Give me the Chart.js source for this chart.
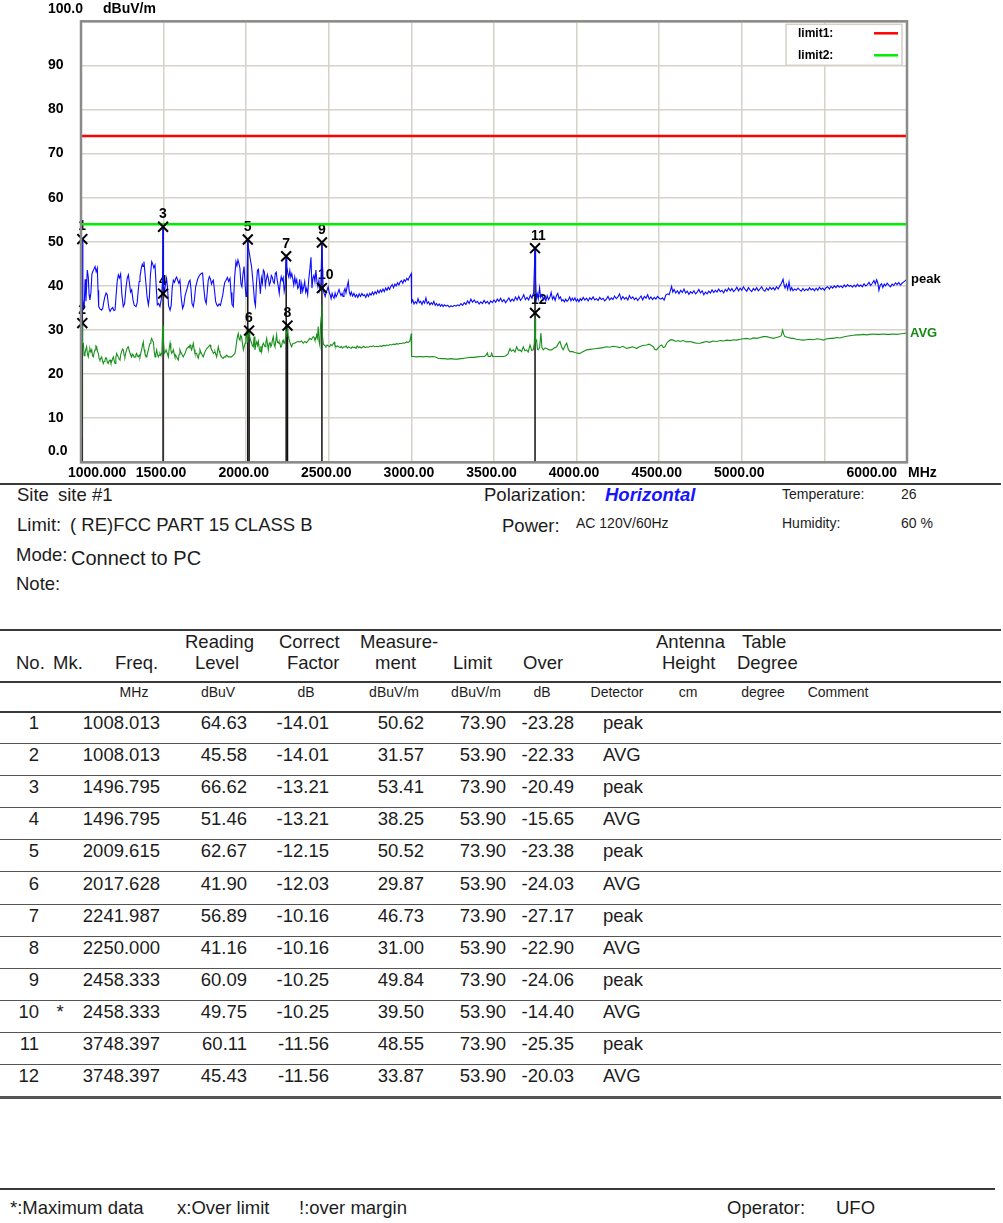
<!DOCTYPE html>
<html><head><meta charset="utf-8">
<script src="https://cdn.jsdelivr.net/npm/chart.js@4.4.1/dist/chart.umd.min.js"></script>
<style>
html,body{margin:0;padding:0;background:#fff;}
#page{position:relative;width:1003px;height:1223px;overflow:hidden;font-family:"Liberation Sans",Arial,sans-serif;color:#1c1c1c;}
#chart{position:absolute;left:0;top:0;}
.t{position:absolute;white-space:nowrap;}
.hl{position:absolute;height:0;}
</style></head><body><div id="page"><canvas id="chart" width="1003" height="482"></canvas></div>
<script>
// ---------- DATA ----------
const xTicks = [1000,1500,2000,2500,3000,3500,4000,4500,5000,5500,6000];
const xTickLabels = ['1000.000','1500.00','2000.00','2500.00','3000.00','3500.00','4000.00','4500.00','5000.00','','6000.00'];
const yTicks = [0,10,20,30,40,50,60,70,80,90,100];
const yTickLabels = ['0.0','10','20','30','40','50','60','70','80','90','100.0'];
const limit1Level = 74;
const limit2Level = 54;

const markerNo = [1,2,3,4,5,6,7,8,9,10,11,12];
const markerMk = ['','','','','','','','','','*','',''];
const markerFreq = [1008.013,1008.013,1496.795,1496.795,2009.615,2017.628,2241.987,2250.000,2458.333,2458.333,3748.397,3748.397];
const readingLevel = [64.63,45.58,66.62,51.46,62.67,41.90,56.89,41.16,60.09,49.75,60.11,45.43];
const correctFactor = [-14.01,-14.01,-13.21,-13.21,-12.15,-12.03,-10.16,-10.16,-10.25,-10.25,-11.56,-11.56];
const measurement = [50.62,31.57,53.41,38.25,50.52,29.87,46.73,31.00,49.84,39.50,48.55,33.87];
const limitValue = [73.90,53.90,73.90,53.90,73.90,53.90,73.90,53.90,73.90,53.90,73.90,53.90];
const overValue = [-23.28,-22.33,-20.49,-15.65,-23.38,-24.03,-27.17,-22.90,-24.06,-14.40,-25.35,-20.03];
const detector = ['peak','AVG','peak','AVG','peak','AVG','peak','AVG','peak','AVG','peak','AVG'];

const peakTrace = [
[1000,27.5],[1002,39.0],[1004,33.0],[1006,46.5],[1008.013,50.62],[1010,45.0],[1012,37.0],[1016,35.2],[1020,36.0],[1025,41.5],[1030,36.5],[1034,40.0],[1038,43.6],[1044,42.0],[1049,38.0],[1054,36.8],[1060,38.5],[1066,42.6],[1071,43.2],[1078,43.8],[1085,44.4],[1092,43.2],[1099,44.0],[1103,39.0],[1107,35.3],[1115,34.8],[1125,34.5],[1132,35.0],[1138,36.4],[1145,37.6],[1152,38.4],[1159,38.0],[1165,36.0],[1170,34.8],[1176,34.2],[1184,34.8],[1192,35.1],[1199,34.4],[1206,34.5],[1212,37.6],[1219,41.0],[1226,42.5],[1233,41.8],[1240,42.7],[1247,38.2],[1256,35.3],[1264,36.0],[1272,39.5],[1280,41.8],[1287,42.5],[1294,40.4],[1300,38.6],[1307,39.1],[1314,37.0],[1322,35.6],[1333,35.3],[1340,36.2],[1346,38.8],[1352,41.0],[1357,42.1],[1364,43.8],[1371,44.9],[1376,44.4],[1381,45.5],[1387,43.0],[1393,40.6],[1400,37.5],[1408,35.7],[1414,37.5],[1420,42.3],[1428,45.5],[1434,45.0],[1441,44.1],[1448,44.7],[1455,40.0],[1462,35.7],[1470,36.0],[1478,35.3],[1486,37.0],[1494,41.3],[1496.795,53.41],[1499,40.6],[1504,38.3],[1510,40.0],[1518,41.7],[1524,39.5],[1530,35.5],[1539,34.5],[1546,35.6],[1552,39.5],[1559,41.3],[1566,40.8],[1573,41.6],[1579,42.0],[1586,41.2],[1592,40.6],[1599,41.3],[1606,37.5],[1615,34.9],[1622,35.6],[1630,37.8],[1640,39.1],[1648,40.2],[1654,41.0],[1660,41.3],[1666,39.2],[1672,36.0],[1680,35.3],[1687,37.0],[1694,39.8],[1700,40.6],[1706,41.5],[1714,42.2],[1720,42.5],[1728,42.8],[1736,42.9],[1742,40.0],[1751,36.8],[1758,36.0],[1764,38.5],[1770,41.2],[1777,42.1],[1784,41.5],[1790,40.4],[1796,41.0],[1801,41.3],[1808,39.0],[1815,36.5],[1821,35.8],[1828,35.4],[1836,35.9],[1844,35.6],[1851,36.8],[1858,37.9],[1864,39.5],[1870,40.8],[1878,41.3],[1886,41.9],[1894,41.0],[1902,41.7],[1908,38.5],[1914,35.8],[1922,35.3],[1930,42.0],[1938,45.5],[1944,44.6],[1950,45.9],[1956,45.1],[1962,44.0],[1968,40.5],[1974,39.8],[1980,42.5],[1987,44.4],[1993,40.5],[1999,37.6],[2004,39.5],[2009.615,50.52],[2014,48.5],[2020,47.2],[2026,45.8],[2032,44.5],[2038,42.2],[2044,39.6],[2050,36.6],[2056,35.5],[2062,40.5],[2068,43.5],[2074,43.8],[2080,41.0],[2086,38.2],[2092,41.8],[2098,40.6],[2104,43.6],[2110,43.2],[2116,40.0],[2122,41.5],[2128,42.6],[2134,41.7],[2140,40.2],[2146,40.8],[2152,42.4],[2158,42.0],[2164,40.9],[2170,40.6],[2176,42.8],[2182,43.1],[2188,41.2],[2194,40.0],[2200,38.3],[2206,40.8],[2212,42.1],[2218,41.2],[2224,41.9],[2230,38.8],[2236,40.2],[2241.987,46.73],[2246,44.5],[2252,42.8],[2258,42.0],[2264,43.5],[2270,42.0],[2276,42.8],[2282,41.6],[2288,40.2],[2294,42.0],[2300,40.6],[2306,41.4],[2312,39.4],[2318,39.8],[2324,41.5],[2330,38.2],[2336,40.5],[2342,38.8],[2348,39.8],[2354,41.0],[2360,38.6],[2366,39.4],[2372,38.0],[2378,41.2],[2386,44.0],[2392,46.5],[2398,39.5],[2404,41.8],[2410,42.4],[2416,41.0],[2422,43.6],[2428,41.0],[2434,39.8],[2440,41.2],[2446,39.1],[2452,40.6],[2458.333,49.84],[2462,44.5],[2466,39.1],[2472,38.3],[2478,37.6],[2484,38.5],[2490,39.1],[2496,39.8],[2502,38.6],[2508,38.0],[2514,37.1],[2520,38.3],[2526,37.6],[2532,37.2],[2538,38.4],[2544,37.5],[2550,38.0],[2556,38.6],[2562,39.2],[2568,38.4],[2574,37.8],[2580,38.3],[2586,37.6],[2592,38.8],[2598,39.4],[2604,38.4],[2612,40.0],[2618,41.0],[2624,38.6],[2630,37.9],[2636,38.6],[2644,37.7],[2652,38.3],[2660,37.5],[2668,38.0],[2676,37.4],[2684,38.2],[2692,37.6],[2700,38.3],[2708,37.8],[2716,38.0],[2724,37.4],[2732,38.2],[2740,37.6],[2748,38.3],[2756,37.9],[2764,38.6],[2772,38.0],[2780,38.7],[2788,38.2],[2796,39.0],[2804,38.4],[2812,39.1],[2820,38.6],[2828,39.3],[2836,38.7],[2844,39.5],[2852,39.0],[2860,39.7],[2868,39.2],[2876,39.9],[2884,40.3],[2892,39.6],[2900,40.4],[2908,40.0],[2916,40.7],[2924,40.2],[2932,40.9],[2940,41.2],[2948,40.6],[2956,41.4],[2964,41.0],[2972,41.7],[2980,41.3],[2988,42.0],[2994,42.4],[2999,42.8],[3001,36.3],
[3008,36.8],[3016,35.9],[3024,36.4],[3032,36.0],[3040,37.1],[3048,36.2],[3056,36.5],[3064,35.8],[3072,36.6],[3080,36.1],[3088,37.3],[3096,36.0],[3104,36.4],[3112,35.7],[3120,36.2],[3128,35.8],[3136,36.5],[3144,35.6],[3152,36.0],[3160,35.5],[3168,35.9],[3176,35.4],[3184,35.8],[3192,35.3],[3200,35.7],[3210,35.4],[3220,35.6],[3230,35.2],[3240,35.5],[3250,35.3],[3260,35.6],[3270,35.4],[3280,35.7],[3290,35.5],[3300,36.0],[3310,35.6],[3320,36.2],[3330,35.8],[3340,36.6],[3350,36.0],[3360,37.0],[3370,36.3],[3380,36.8],[3390,36.2],[3400,36.5],[3410,35.9],[3420,36.4],[3430,36.0],[3440,36.7],[3450,36.1],[3460,36.5],[3470,35.9],[3480,36.6],[3490,36.2],[3500,36.8],
[3510,36.3],[3520,37.0],[3530,36.5],[3540,37.2],[3550,36.4],[3560,36.9],[3570,36.2],[3580,36.7],[3590,37.3],[3600,36.5],[3610,37.0],[3620,36.6],[3630,37.5],[3640,36.8],[3650,37.6],[3660,36.7],[3670,37.2],[3680,38.0],[3690,36.9],[3700,37.4],[3710,36.8],[3720,37.9],[3730,37.2],[3740,38.5],[3748.397,48.55],[3752,41.8],[3756,37.0],[3762,38.2],[3768,37.1],[3776,39.6],[3782,37.4],[3790,38.0],[3798,36.9],[3806,37.5],[3814,36.6],[3822,37.8],[3830,36.9],[3838,37.4],[3846,38.5],[3854,37.0],[3862,37.6],[3870,36.7],[3878,37.8],[3886,38.3],[3894,37.1],[3902,37.5],[3910,36.6],[3918,36.9],[3926,36.4],[3934,37.0],[3942,36.5],[3950,36.8],[3958,37.5],[3966,36.6],[3974,37.2],[3982,36.7],[3990,37.3],[3998,36.5],[4006,37.0],[4014,36.4],[4022,37.1],[4030,36.7],[4040,37.4],[4050,36.8],[4060,37.2],[4070,36.6],[4080,37.3],[4090,36.9],[4100,37.5],[4110,36.8],[4120,37.1],[4130,36.7],[4140,37.4],[4150,36.9],[4160,37.2],[4170,36.6],[4180,37.0],[4190,37.6],[4200,36.8],[4210,37.3],[4220,36.9],[4230,37.7],[4240,37.1],[4250,37.5],[4260,38.2],[4270,36.9],[4280,37.6],[4290,37.0],[4300,37.4],[4310,36.8],[4320,37.8],[4330,37.1],[4340,37.5],[4350,36.9],[4360,37.3],[4370,36.7],[4380,37.2],[4390,37.7],[4400,36.8],[4410,37.6],[4420,37.2],[4430,38.0],[4440,37.0],[4450,37.5],[4460,36.9],[4470,37.4],[4480,37.0],[4490,37.6],[4500,37.2],
[4510,37.0],[4520,37.3],[4530,36.8],[4540,37.9],[4550,38.2],[4560,38.0],[4568,39.0],[4575,39.9],[4582,38.6],[4590,39.2],[4600,38.4],[4610,38.9],[4620,38.2],[4630,39.0],[4640,38.5],[4650,39.3],[4660,38.4],[4670,38.8],[4680,38.1],[4690,38.7],[4700,38.3],[4710,38.9],[4720,38.2],[4730,38.6],[4740,39.2],[4750,38.4],[4760,38.9],[4770,38.0],[4780,38.6],[4790,38.2],[4800,38.8],[4810,38.4],[4820,39.1],[4830,38.5],[4840,39.0],[4850,38.6],[4860,39.3],[4870,38.7],[4880,39.0],[4890,38.4],[4900,39.2],[4910,38.8],[4920,39.5],[4930,38.9],[4940,39.4],[4950,38.7],[4960,39.1],[4970,39.7],[4980,38.9],[4990,39.5],[5000,39.0],[5010,39.8],[5020,39.2],[5030,38.8],[5040,39.6],[5050,39.1],[5060,38.7],[5070,39.4],[5080,39.0],[5090,39.6],[5100,38.9],[5110,39.3],[5120,39.8],[5130,39.1],[5140,38.8],[5150,39.5],[5160,39.0],[5170,39.7],[5180,39.2],[5190,39.6],[5200,39.1],[5210,39.8],[5220,39.3],[5230,40.0],[5240,40.6],[5250,41.5],[5256,40.2],[5262,39.5],[5270,40.4],[5278,39.2],[5286,40.9],[5294,39.0],[5302,39.6],[5310,38.9],[5320,39.3],[5330,39.0],[5340,39.5],[5350,39.1],[5360,38.8],[5370,39.4],[5380,38.9],[5390,39.3],[5400,39.0],[5410,39.6],[5420,39.1],[5430,39.4],[5440,38.9],[5450,39.5],[5460,39.0],[5470,39.7],[5480,39.2],[5490,39.5],[5500,39.0],[5510,39.6],[5520,39.8],[5530,39.3],[5540,39.9],[5550,39.5],[5560,40.0],[5570,39.6],[5580,40.1],[5590,39.7],[5600,40.0],[5610,39.6],[5620,40.2],[5630,39.8],[5640,40.3],[5650,39.9],[5660,40.1],[5670,39.7],[5680,40.2],[5690,39.8],[5700,40.4],[5710,39.9],[5720,40.2],[5730,39.8],[5740,40.5],[5750,40.0],[5760,40.3],[5770,40.8],[5780,40.1],[5790,40.6],[5800,41.2],[5808,40.4],[5816,41.4],[5824,40.6],[5830,39.0],[5838,40.2],[5846,40.5],[5854,39.6],[5862,40.4],[5870,40.0],[5880,40.6],[5890,40.2],[5900,39.8],[5910,40.4],[5920,40.1],[5930,40.7],[5940,40.3],[5950,40.8],[5960,40.2],[5970,40.6],[5980,40.9],[5990,41.2],[6000,41.5]
];

const avgTrace = [
[1000,5.5],[1002,18.0],[1004,27.5],[1006,24.0],[1008.013,31.0],[1010,27.2],[1014,27.0],[1019,24.2],[1024,24.7],[1029,25.6],[1034,26.2],[1039,24.5],[1044,23.9],[1049,25.2],[1054,25.8],[1060,25.0],[1065,25.5],[1070,24.1],[1075,23.9],[1080,25.0],[1085,25.5],[1090,26.4],[1095,26.2],[1100,25.1],[1105,24.7],[1110,23.5],[1115,23.2],[1120,23.6],[1125,23.9],[1130,23.0],[1135,22.4],[1140,22.9],[1145,23.2],[1150,23.7],[1155,23.6],[1160,22.6],[1165,22.4],[1170,23.0],[1176,23.2],[1181,22.5],[1186,22.8],[1191,23.5],[1196,23.9],[1201,23.0],[1206,22.4],[1211,23.8],[1216,24.7],[1221,24.2],[1226,23.9],[1231,23.4],[1236,23.2],[1241,24.5],[1246,25.1],[1251,25.7],[1256,25.5],[1261,24.3],[1266,23.9],[1271,24.8],[1276,25.5],[1281,26.0],[1286,26.2],[1291,25.5],[1297,24.7],[1302,24.2],[1307,23.9],[1312,24.5],[1317,24.3],[1322,23.8],[1327,23.9],[1332,24.4],[1337,24.7],[1342,24.1],[1347,23.9],[1352,24.3],[1357,23.9],[1362,24.8],[1367,25.5],[1372,26.5],[1377,27.3],[1382,25.6],[1387,24.7],[1392,24.2],[1398,23.9],[1403,24.8],[1408,25.5],[1413,26.4],[1418,27.0],[1423,27.6],[1428,28.1],[1433,27.5],[1438,27.3],[1443,25.2],[1448,23.9],[1453,24.6],[1458,25.5],[1463,24.5],[1468,23.9],[1473,24.3],[1478,24.7],[1484,24.2],[1490,25.0],[1494,30.5],[1496.795,31.1],[1499,27.5],[1504,24.7],[1510,25.0],[1515,25.5],[1519,25.5],[1524,24.5],[1529,23.9],[1534,25.8],[1539,27.0],[1544,25.5],[1549,24.7],[1554,25.0],[1559,25.5],[1564,24.6],[1569,23.9],[1574,24.2],[1579,23.9],[1584,23.5],[1589,23.2],[1594,24.5],[1599,25.5],[1604,25.0],[1609,24.7],[1614,24.2],[1619,23.9],[1624,24.3],[1630,24.7],[1640,25.8],[1650,26.2],[1655,26.0],[1660,26.6],[1665,26.0],[1670,25.5],[1675,26.3],[1680,27.0],[1685,25.6],[1690,24.7],[1695,24.7],[1700,24.7],[1705,24.0],[1710,23.6],[1715,24.6],[1720,25.5],[1725,25.0],[1730,24.7],[1735,24.2],[1740,23.9],[1745,24.5],[1751,25.1],[1761,25.8],[1771,26.2],[1776,26.4],[1781,26.6],[1786,26.0],[1791,25.5],[1796,25.2],[1801,24.7],[1806,24.9],[1811,25.1],[1816,24.5],[1821,23.9],[1826,25.0],[1831,26.2],[1836,25.3],[1841,24.7],[1846,24.2],[1851,23.9],[1856,23.7],[1862,23.6],[1867,23.9],[1872,23.9],[1877,24.1],[1882,24.3],[1887,24.1],[1892,23.9],[1902,23.9],[1912,23.9],[1922,24.3],[1932,24.7],[1937,25.8],[1942,27.3],[1947,28.5],[1952,29.2],[1957,28.0],[1962,27.7],[1967,28.8],[1972,28.5],[1978,26.8],[1983,25.5],[1988,26.3],[1993,27.0],[1998,28.2],[2003,29.5],[2008,27.2],[2012,29.0],[2017.628,29.9],[2020,28.8],[2023,28.5],[2028,27.5],[2033,27.0],[2038,26.4],[2043,26.2],[2048,28.5],[2053,25.5],[2058,26.6],[2064,27.3],[2069,26.5],[2074,27.4],[2079,25.8],[2084,25.1],[2089,26.4],[2094,25.1],[2099,26.5],[2104,27.0],[2109,26.6],[2114,26.2],[2119,27.2],[2124,28.1],[2129,26.8],[2134,25.5],[2139,26.9],[2144,27.3],[2149,26.2],[2154,26.6],[2159,27.8],[2164,28.5],[2169,26.8],[2174,26.2],[2179,27.5],[2184,28.9],[2189,27.2],[2194,27.3],[2199,26.9],[2204,27.0],[2209,26.1],[2214,26.2],[2219,27.4],[2224,27.7],[2229,27.0],[2234,27.3],[2240,28.5],[2245,29.5],[2250,30.2],[2254,28.5],[2258,28.1],[2264,27.3],[2270,26.6],[2275,26.2],[2280,26.8],[2285,27.0],[2295,27.0],[2305,27.3],[2315,27.4],[2325,27.3],[2335,27.5],[2345,27.0],[2355,27.4],[2365,27.1],[2375,27.6],[2385,28.1],[2395,27.8],[2400,28.2],[2406,28.5],[2411,28.3],[2416,27.7],[2421,27.9],[2426,28.9],[2431,28.2],[2436,30.8],[2441,27.4],[2446,26.5],[2450,31.2],[2454,33.0],[2458.333,35.7],[2462,28.5],[2467,26.8],[2472,26.6],[2478,26.4],[2483,26.2],[2490,26.6],[2497,26.4],[2505,26.2],[2512,26.7],[2520,26.5],[2527,26.9],[2533,27.2],[2537,26.5],[2545,26.2],[2552,26.4],[2560,26.2],[2568,26.0],[2575,26.3],[2582,25.9],[2590,26.2],[2598,26.1],[2605,26.4],[2612,25.9],[2620,26.2],[2628,26.0],[2635,25.8],[2642,26.2],[2650,26.0],[2658,26.1],[2665,25.8],[2672,26.4],[2680,26.0],[2688,26.2],[2696,25.9],[2704,26.1],[2712,26.3],[2720,26.0],[2730,26.2],[2740,26.1],[2750,26.3],[2760,26.2],[2770,26.4],[2780,26.2],[2790,26.3],[2800,26.2],[2810,26.4],[2820,26.3],[2830,26.5],[2840,26.4],[2850,26.6],[2860,26.5],[2870,26.7],[2880,26.6],[2890,26.8],[2900,26.7],[2910,26.9],[2920,26.8],[2930,27.0],[2940,26.9],[2950,27.1],[2960,27.0],[2970,27.3],[2980,27.2],[2990,27.4],[2996,28.4],[2999,29.2],[3001,24.0],
[3010,24.0],[3030,23.9],[3050,24.0],[3070,23.9],[3090,24.0],[3110,23.9],[3130,24.0],[3150,23.8],[3160,23.6],[3180,23.5],[3200,23.5],[3220,23.4],[3240,23.5],[3260,23.4],[3280,23.4],[3300,23.5],[3320,23.6],[3340,23.7],[3360,23.8],[3380,23.8],[3400,23.9],[3420,24.0],[3440,24.0],[3450,24.2],[3460,24.8],[3465,24.0],[3480,24.0],[3486,24.7],[3492,24.0],[3510,24.0],[3530,24.0],[3556,24.0],[3570,24.1],[3585,24.6],[3597,25.8],[3605,25.2],[3617,25.5],[3627,25.0],[3637,26.2],[3647,25.4],[3657,25.5],[3667,25.1],[3677,26.2],[3687,25.3],[3697,25.5],[3707,25.0],[3718,26.6],[3728,25.4],[3738,25.5],[3744,27.0],[3748.397,32.6],[3752,27.4],[3758,27.7],[3763,25.6],[3768,25.5],[3776,26.0],[3784,29.3],[3790,26.0],[3798,25.5],[3808,25.9],[3819,25.8],[3834,25.5],[3849,25.5],[3864,25.9],[3879,26.2],[3889,26.9],[3899,27.4],[3909,26.2],[3919,25.5],[3930,26.4],[3940,27.0],[3950,25.6],[3960,25.1],[3975,25.1],[3990,24.9],[4000,24.8],[4010,24.7],[4020,24.7],[4035,25.0],[4050,25.3],[4061,25.5],[4080,25.6],[4100,25.7],[4121,25.8],[4140,25.9],[4160,26.0],[4182,26.2],[4200,26.1],[4220,26.3],[4242,26.2],[4260,26.0],[4280,26.3],[4303,25.8],[4320,26.0],[4340,26.2],[4363,25.8],[4380,26.2],[4400,26.5],[4424,26.6],[4440,26.8],[4464,26.2],[4474,25.6],[4484,25.5],[4495,26.0],[4505,26.4],[4515,26.6],[4525,26.0],[4535,26.2],[4545,27.0],[4555,27.4],[4570,27.8],[4585,27.7],[4600,27.4],[4615,27.6],[4626,27.4],[4645,27.6],[4665,27.3],[4686,27.4],[4705,27.2],[4725,27.0],[4747,27.0],[4765,27.2],[4787,27.4],[4805,27.2],[4825,27.5],[4848,27.4],[4870,27.6],[4890,27.5],[4908,27.7],[4930,27.6],[4950,27.8],[4969,27.7],[4990,27.9],[5010,28.0],[5029,28.1],[5050,27.9],[5070,28.2],[5090,28.1],[5110,28.3],[5130,28.5],[5150,28.5],[5170,28.3],[5191,28.1],[5210,28.3],[5231,28.5],[5240,28.8],[5247,30.0],[5254,29.0],[5261,28.5],[5280,28.3],[5300,28.1],[5312,28.1],[5330,27.9],[5350,27.8],[5372,27.7],[5390,27.8],[5410,27.9],[5433,27.8],[5455,28.0],[5475,27.9],[5493,27.7],[5515,28.0],[5535,28.1],[5554,28.1],[5575,28.3],[5595,28.2],[5614,28.4],[5635,28.6],[5655,28.7],[5675,28.8],[5695,28.9],[5715,28.9],[5735,29.0],[5755,28.9],[5776,29.0],[5796,29.1],[5816,29.0],[5836,29.0],[5856,29.1],[5876,29.0],[5897,29.0],[5917,29.1],[5937,29.0],[5957,29.1],[5977,29.2],[6000,29.3]
];

// ---------- CHART ----------
const FONT = '"Liberation Sans", Arial, sans-serif';
const toXY = a => a.map(p => ({x:p[0], y:p[1]}));

const dropGroups = [];
markerFreq.forEach((f,i) => {
  const g = dropGroups.find(d => d.f === f);
  if (g) g.top = Math.max(g.top, measurement[i]); else dropGroups.push({f, top: measurement[i]});
});

const datasets = [
  {label:'markers', data: markerFreq.map((f,i)=>({x:f, y:measurement[i]})), showLine:false, clip:false,
   pointStyle:'crossRot', pointRadius:7, pointBorderWidth:2, borderColor:'#000', backgroundColor:'#000'},
  {label:'limit1', data:[{x:1000,y:limit1Level},{x:6000,y:limit1Level}], showLine:true, borderColor:'#ff0000', borderWidth:2.5, pointRadius:0},
  {label:'limit2', data:[{x:1000,y:limit2Level},{x:6000,y:limit2Level}], showLine:true, borderColor:'#00ee00', borderWidth:2.5, pointRadius:0},
  {label:'peak', data: toXY(peakTrace), showLine:true, borderColor:'#0a0aff', borderWidth:1.1, pointRadius:0},
  {label:'AVG', data: toXY(avgTrace), showLine:true, borderColor:'#18901a', borderWidth:1.1, pointRadius:0},
];
dropGroups.forEach(g => datasets.push({label:'drop', data:[{x:g.f,y:g.top},{x:g.f,y:0}], showLine:true, borderColor:'#111', borderWidth:1.5, pointRadius:0}));

const overlay = {
  id:'overlay',
  beforeDatasetsDraw(chart){
    const ctx = chart.ctx, xs = chart.scales.x, ys = chart.scales.y;
    ctx.save();
    ctx.font = 'bold 14px ' + FONT; ctx.fillStyle = '#000'; ctx.textAlign = 'left'; ctx.textBaseline = 'middle';
    markerNo.forEach((n,i) => {
      const px = xs.getPixelForValue(markerFreq[i]), py = ys.getPixelForValue(measurement[i]);
      ctx.fillText(String(n), px - 4, py - 12.5);
    });
    ctx.restore();
  },
  afterDraw(chart){
    const ctx = chart.ctx, a = chart.chartArea, xs = chart.scales.x, ys = chart.scales.y;
    ctx.save();
    // frame
    ctx.strokeStyle = '#8a8a8a'; ctx.lineWidth = 2.5;
    ctx.strokeRect(a.left, a.top, a.right - a.left, a.bottom - a.top);
    // y labels
    ctx.font = 'bold 14px ' + FONT; ctx.fillStyle = '#000'; ctx.textBaseline = 'middle'; ctx.textAlign = 'left';
    yTicks.forEach((v,i) => {
      let y = ys.getPixelForValue(v);
      if (i === 0) y -= 11;
      if (i === yTicks.length - 1) y -= 12.5;
      ctx.fillText(yTickLabels[i], 48, y);
    });
    ctx.fillText('dBuV/m', 103, ys.getPixelForValue(100) - 12.5);
    // x labels
    const ly = a.bottom + 11;
    xTicks.forEach((v,i) => {
      const lab = xTickLabels[i]; if (!lab) return;
      const px = xs.getPixelForValue(v);
      if (i === 0) { ctx.textAlign = 'left'; ctx.fillText(lab, px - 13, ly); }
      else if (i === xTicks.length - 1) { ctx.textAlign = 'right'; ctx.fillText(lab, px - 10, ly); }
      else { ctx.textAlign = 'center'; ctx.fillText(lab, px - 2.5, ly); }
    });
    ctx.textAlign = 'left'; ctx.fillText('MHz', a.right + 1, ly);
    // trace end labels
    ctx.font = 'bold 13px ' + FONT;
    ctx.fillStyle = '#000';
    ctx.fillText('peak', a.right + 4, ys.getPixelForValue(peakTrace[peakTrace.length-1][1]));
    ctx.fillStyle = '#138a13';
    ctx.fillText('AVG', a.right + 3, ys.getPixelForValue(avgTrace[avgTrace.length-1][1]));
    // legend box
    const bx = a.right - 121, by = a.top + 3, bw = 116, bh = 41;
    ctx.fillStyle = '#fff'; ctx.fillRect(bx, by, bw, bh);
    ctx.strokeStyle = '#d4d0c8'; ctx.lineWidth = 1.5; ctx.strokeRect(bx, by, bw, bh);
    ctx.font = 'bold 12px ' + FONT; ctx.fillStyle = '#000'; ctx.textAlign = 'left';
    ctx.fillText('limit1:', bx + 12, by + 9);
    ctx.fillText('limit2:', bx + 12, by + 31);
    ctx.lineWidth = 2.5;
    ctx.strokeStyle = '#ff0000'; ctx.beginPath(); ctx.moveTo(bx + 88, by + 9); ctx.lineTo(bx + 112, by + 9); ctx.stroke();
    ctx.strokeStyle = '#00ee00'; ctx.beginPath(); ctx.moveTo(bx + 88, by + 31); ctx.lineTo(bx + 112, by + 31); ctx.stroke();
    ctx.restore();
  }
};

new Chart(document.getElementById('chart'), {
  type:'scatter',
  data:{datasets},
  options:{
    responsive:false, animation:false, events:[],
    layout:{padding:{left:81, right:96, top:21.3, bottom:19.7}},
    plugins:{legend:{display:false}, tooltip:{enabled:false}},
    elements:{line:{tension:0}},
    scales:{
      x:{type:'linear', min:1000, max:6000, ticks:{display:false, stepSize:500},
         grid:{color:'#d6d2ca', lineWidth:1.5, drawTicks:false}, border:{display:false}},
      y:{type:'linear', min:0, max:100, ticks:{display:false, stepSize:10},
         grid:{color:'#d6d2ca', lineWidth:1.5, drawTicks:false}, border:{display:false}}
    }
  },
  plugins:[overlay]
});

// ---------- TEXT / TABLE ----------
const page = document.getElementById('page');
function txt(s, x, cy, size, o){
  o = o || {};
  const d = document.createElement('div'); d.className = 't'; d.textContent = s;
  d.style.fontSize = size + 'px'; d.style.lineHeight = size + 'px';
  d.style.top = (cy - 0.5 * size) + 'px';
  if (o.align === 'right') d.style.right = (1003 - x) + 'px';
  else if (o.align === 'center') { d.style.left = x + 'px'; d.style.transform = 'translateX(-50%)'; }
  else d.style.left = x + 'px';
  if (o.weight) d.style.fontWeight = o.weight;
  if (o.style) d.style.fontStyle = o.style;
  if (o.color) d.style.color = o.color;
  page.appendChild(d);
}
function hline(y, x1, x2, w, c){
  const d = document.createElement('div'); d.className = 'hl';
  d.style.left = x1 + 'px'; d.style.width = (x2 - x1) + 'px'; d.style.top = (y - w/2) + 'px';
  d.style.borderTop = w + 'px solid ' + c; page.appendChild(d);
}
const S = 18.5, s = 14;
hline(483.5, 0, 1001, 2, '#3a3a3a');
txt('Site', 17, 495, S); txt('site #1', 58, 495, S);
txt('Polarization:', 484, 495, S);
txt('Horizontal', 605, 495, S, {weight:'bold', style:'italic', color:'#1414ff'});
txt('Temperature:', 782, 494, s); txt('26', 901, 494, s);
txt('Limit:', 17, 525, S); txt('( RE)FCC PART 15 CLASS B', 70, 525, S);
txt('Power:', 502, 526, S); txt('AC 120V/60Hz', 576, 523, s);
txt('Humidity:', 782, 523, s); txt('60 %', 901, 523, s);
txt('Mode:', 16, 555, S); txt('Connect to PC', 71, 558, 20);
txt('Note:', 16, 584, S);

hline(629.5, 0, 1001, 2, '#3a3a3a');
txt('Reading', 185, 642, S); txt('Correct', 279, 642, S); txt('Measure-', 360, 642, S);
txt('Antenna', 656, 642, S); txt('Table', 742, 642, S);
txt('No.', 16, 663, S); txt('Mk.', 53, 663, S); txt('Freq.', 115, 663, S); txt('Level', 195, 663, S);
txt('Factor', 287, 663, S); txt('ment', 375, 663, S); txt('Limit', 453, 663, S); txt('Over', 523, 663, S);
txt('Height', 662, 663, S); txt('Degree', 737, 663, S);
hline(682, 0, 1001, 2, '#3a3a3a');
txt('MHz', 134, 692, s, {align:'center'}); txt('dBuV', 218, 692, s, {align:'center'});
txt('dB', 306, 692, s, {align:'center'}); txt('dBuV/m', 394, 692, s, {align:'center'});
txt('dBuV/m', 476, 692, s, {align:'center'}); txt('dB', 542, 692, s, {align:'center'});
txt('Detector', 617, 692, s, {align:'center'}); txt('cm', 688, 692, s, {align:'center'});
txt('degree', 763, 692, s, {align:'center'}); txt('Comment', 838, 692, s, {align:'center'});
hline(711.7, 0, 1001, 2, '#3a3a3a');
const rowH = 32.1;
markerNo.forEach((n,i) => {
  const cy = 723.3 + i * rowH;
  txt(String(n), 39, cy, S, {align:'right'});
  if (markerMk[i]) txt(markerMk[i], 60, cy, S, {align:'center'});
  txt(markerFreq[i].toFixed(3), 160, cy, S, {align:'right'});
  txt(readingLevel[i].toFixed(2), 247, cy, S, {align:'right'});
  txt(correctFactor[i].toFixed(2), 329, cy, S, {align:'right'});
  txt(measurement[i].toFixed(2), 424, cy, S, {align:'right'});
  txt(limitValue[i].toFixed(2), 506, cy, S, {align:'right'});
  txt(overValue[i].toFixed(2), 574, cy, S, {align:'right'});
  txt(detector[i], 603, cy, S);
  const ly = 711.7 + (i + 1) * rowH;
  if (i < markerNo.length - 1) hline(ly, 0, 1001, 1.6, '#555');
  else hline(ly + 0.5, 0, 1001, 3, '#555');
});
hline(1188.5, 0, 995, 2, '#3a3a3a');
txt('*:Maximum data', 10, 1208, S); txt('x:Over limit', 177, 1208, S); txt('!:over margin', 299, 1208, S);
txt('Operator:', 727, 1208, S); txt('UFO', 836, 1208, S);
</script></body></html>
